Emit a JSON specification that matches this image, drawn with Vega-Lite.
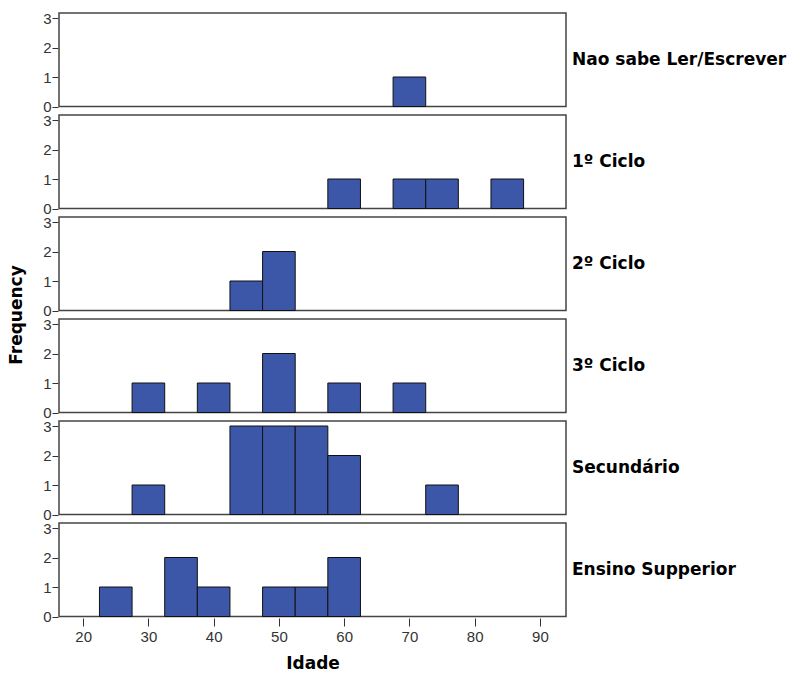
{
  "$schema": "https://vega.github.io/schema/vega-lite/v6.json",
  "background": "white",
  "padding": {"left": 7, "top": 11, "right": 0, "bottom": 0},
  "data": {
    "values": [
      {"escolaridade": "Nao sabe Ler/Escrever", "idade_min": 67.5, "idade_max": 72.5, "freq": 1},
      {"escolaridade": "1º Ciclo", "idade_min": 57.5, "idade_max": 62.5, "freq": 1},
      {"escolaridade": "1º Ciclo", "idade_min": 67.5, "idade_max": 72.5, "freq": 1},
      {"escolaridade": "1º Ciclo", "idade_min": 72.5, "idade_max": 77.5, "freq": 1},
      {"escolaridade": "1º Ciclo", "idade_min": 82.5, "idade_max": 87.5, "freq": 1},
      {"escolaridade": "2º Ciclo", "idade_min": 42.5, "idade_max": 47.5, "freq": 1},
      {"escolaridade": "2º Ciclo", "idade_min": 47.5, "idade_max": 52.5, "freq": 2},
      {"escolaridade": "3º Ciclo", "idade_min": 27.5, "idade_max": 32.5, "freq": 1},
      {"escolaridade": "3º Ciclo", "idade_min": 37.5, "idade_max": 42.5, "freq": 1},
      {"escolaridade": "3º Ciclo", "idade_min": 47.5, "idade_max": 52.5, "freq": 2},
      {"escolaridade": "3º Ciclo", "idade_min": 57.5, "idade_max": 62.5, "freq": 1},
      {"escolaridade": "3º Ciclo", "idade_min": 67.5, "idade_max": 72.5, "freq": 1},
      {"escolaridade": "Secundário", "idade_min": 27.5, "idade_max": 32.5, "freq": 1},
      {"escolaridade": "Secundário", "idade_min": 42.5, "idade_max": 47.5, "freq": 3},
      {"escolaridade": "Secundário", "idade_min": 47.5, "idade_max": 52.5, "freq": 3},
      {"escolaridade": "Secundário", "idade_min": 52.5, "idade_max": 57.5, "freq": 3},
      {"escolaridade": "Secundário", "idade_min": 57.5, "idade_max": 62.5, "freq": 2},
      {"escolaridade": "Secundário", "idade_min": 72.5, "idade_max": 77.5, "freq": 1},
      {"escolaridade": "Ensino Supperior", "idade_min": 22.5, "idade_max": 27.5, "freq": 1},
      {"escolaridade": "Ensino Supperior", "idade_min": 32.5, "idade_max": 37.5, "freq": 2},
      {"escolaridade": "Ensino Supperior", "idade_min": 37.5, "idade_max": 42.5, "freq": 1},
      {"escolaridade": "Ensino Supperior", "idade_min": 47.5, "idade_max": 52.5, "freq": 1},
      {"escolaridade": "Ensino Supperior", "idade_min": 52.5, "idade_max": 57.5, "freq": 1},
      {"escolaridade": "Ensino Supperior", "idade_min": 57.5, "idade_max": 62.5, "freq": 2}
    ]
  },
  "facet": {
    "row": {
      "field": "escolaridade",
      "type": "nominal",
      "sort": ["Nao sabe Ler/Escrever", "1º Ciclo", "2º Ciclo", "3º Ciclo", "Secundário", "Ensino Supperior"],
      "title": "Frequency",
      "header": {
        "titleOrient": "left",
        "titleFont": "DejaVu Sans",
        "titleFontWeight": "bold",
        "titleFontSize": 17,
        "titleColor": "black",
        "titlePadding": 6,
        "labelOrient": "right",
        "labelAngle": 0,
        "labelFont": "DejaVu Sans",
        "labelFontWeight": "bold",
        "labelFontSize": 17,
        "labelColor": "black",
        "labelPadding": 5
      }
    }
  },
  "spacing": 6,
  "spec": {
    "width": 507,
    "height": 93.5,
    "mark": {"type": "bar", "fill": "#3d57a8", "stroke": "#111", "strokeWidth": 1},
    "encoding": {
      "x": {
        "field": "idade_min",
        "type": "quantitative",
        "scale": {"domain": [16.3, 94], "nice": false, "zero": false},
        "axis": {
          "title": "Idade",
          "values": [20, 30, 40, 50, 60, 70, 80, 90],
          "titleFont": "DejaVu Sans",
          "titleFontWeight": "bold",
          "titleFontSize": 17,
          "titleColor": "black",
          "titlePadding": 11,
          "labelFont": "Liberation Sans",
          "labelFontSize": 15,
          "labelColor": "#333",
          "tickSize": 8,
          "tickColor": "#333",
          "domain": false,
          "grid": false,
          "labelPadding": 3
        }
      },
      "x2": {"field": "idade_max"},
      "y": {
        "field": "freq",
        "type": "quantitative",
        "scale": {"domain": [0, 3.17], "nice": false},
        "axis": {
          "title": null,
          "values": [0, 1, 2, 3],
          "labelFont": "Liberation Sans",
          "labelFontSize": 15,
          "labelColor": "#333",
          "tickSize": 6,
          "tickColor": "#333",
          "domain": false,
          "grid": false,
          "labelPadding": 1
        }
      },
      "y2": {"datum": 0}
    }
  },
  "config": {
    "view": {"stroke": "#444", "strokeWidth": 1.5}
  }
}
